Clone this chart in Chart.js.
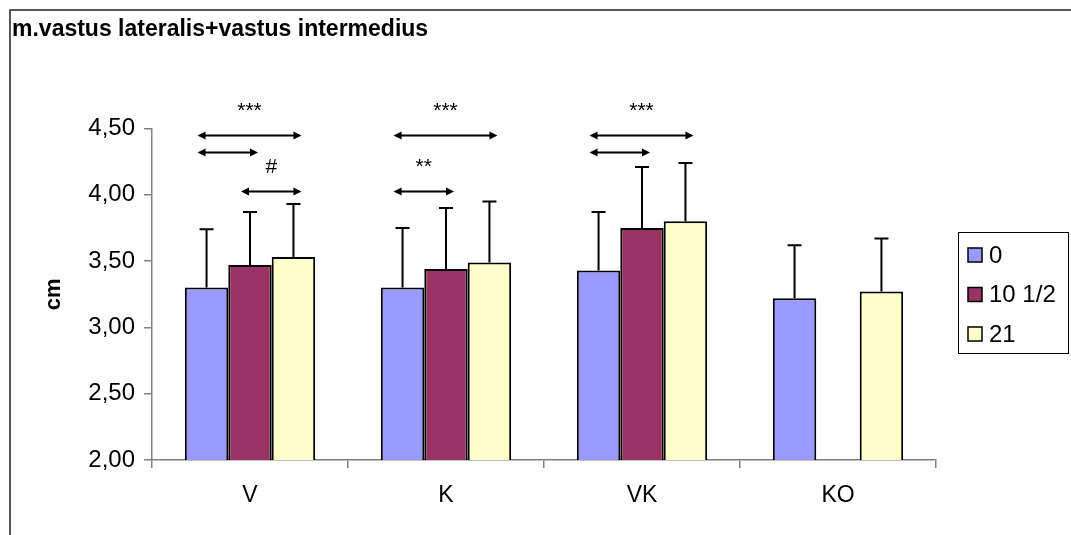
<!DOCTYPE html>
<html>
<head>
<meta charset="utf-8">
<script src="https://cdn.jsdelivr.net/npm/chart.js@4/dist/chart.umd.min.js"></script>
<style>
    html, body { margin: 0; padding: 0; background: #fff; }
    #wrap { width: 1071px; height: 535px; }
</style>
</head>
<body>
<div id="wrap"><canvas id="graficoBarras"></canvas></div>
<script>
const categorias = ['V', 'K', 'VK', 'KO'];
const serieNomes = ['0', '10 1/2', '21'];
const valores0 = [3.30, 3.30, 3.43, 3.22];
const valores10 = [3.47, 3.44, 3.75, null];
const valores21 = [3.53, 3.49, 3.80, 3.27];
const desvio0 = [0.44, 0.45, 0.44, 0.40];
const desvio10 = [0.40, 0.46, 0.46, null];
const desvio21 = [0.40, 0.46, 0.44, 0.40];
const yTicks = [2.00, 2.50, 3.00, 3.50, 4.00, 4.50];
const yTickLabels = ['2,00', '2,50', '3,00', '3,50', '4,00', '4,50'];
// comparacoes: categoria, serie inicial, serie final, nivel (cm), marca
const comparacoes = [
    { cat: 0, de: 0, ate: 2, nivel: 4.45, marca: '***' },
    { cat: 0, de: 0, ate: 1, nivel: 4.32, marca: '' },
    { cat: 0, de: 1, ate: 2, nivel: 4.03, marca: '#' },
    { cat: 1, de: 0, ate: 2, nivel: 4.45, marca: '***' },
    { cat: 1, de: 0, ate: 1, nivel: 4.03, marca: '**' },
    { cat: 2, de: 0, ate: 2, nivel: 4.45, marca: '***' },
    { cat: 2, de: 0, ate: 1, nivel: 4.32, marca: '' }
];

const cores = ['#9999ff', '#993366', '#ffffcc'];
const fonte = "'Liberation Sans', Arial, sans-serif";

const molduraPlugin = {
    id: 'moldura',
    beforeDraw(chart) {
        const ctx = chart.ctx;
        ctx.save();
        ctx.fillStyle = '#fff';
        ctx.fillRect(0, 0, chart.width, chart.height);
        ctx.strokeStyle = '#222';
        ctx.lineWidth = 1.5;
        ctx.beginPath();
        ctx.moveTo(10, chart.height);
        ctx.lineTo(10, 10);
        ctx.lineTo(chart.width, 10);
        ctx.stroke();
        ctx.restore();
    }
};

const errosPlugin = {
    id: 'erros',
    afterDatasetsDraw(chart) {
        const ctx = chart.ctx;
        const y = chart.scales.y;
        ctx.save();
        ctx.strokeStyle = '#000';
        ctx.lineWidth = 2;
        chart.data.datasets.forEach((ds, i) => {
            const meta = chart.getDatasetMeta(i);
            meta.data.forEach((bar, j) => {
                const v = ds.data[j];
                const sd = ds.desvio[j];
                if (v == null || sd == null) return;
                const yTop = y.getPixelForValue(v + sd);
                ctx.beginPath();
                ctx.moveTo(bar.x, bar.y);
                ctx.lineTo(bar.x, yTop);
                ctx.moveTo(bar.x - 7, yTop);
                ctx.lineTo(bar.x + 7, yTop);
                ctx.stroke();
            });
        });

        // setas de significancia
        ctx.fillStyle = '#000';
        ctx.font = '21px ' + fonte;
        ctx.textAlign = 'center';
        ctx.textBaseline = 'middle';
        comparacoes.forEach(c => {
            const x1 = chart.getDatasetMeta(c.de).data[c.cat].x - 9;
            const x2 = chart.getDatasetMeta(c.ate).data[c.cat].x + 8;
            const yy = Math.round(y.getPixelForValue(c.nivel)) + 0.5;
            ctx.lineWidth = 2;
            ctx.beginPath();
            ctx.moveTo(x1 + 4, yy);
            ctx.lineTo(x2 - 4, yy);
            ctx.stroke();
            ctx.beginPath();
            ctx.moveTo(x1, yy);
            ctx.lineTo(x1 + 8, yy - 4);
            ctx.lineTo(x1 + 8, yy + 4);
            ctx.closePath();
            ctx.moveTo(x2, yy);
            ctx.lineTo(x2 - 8, yy - 4);
            ctx.lineTo(x2 - 8, yy + 4);
            ctx.closePath();
            ctx.fill();
            if (c.marca) {
                ctx.fillText(c.marca, (x1 + x2) / 2, yy - 24);
            }
        });
        ctx.restore();
    }
};

const legendaPlugin = {
    id: 'legenda',
    afterDraw(chart) {
        const ctx = chart.ctx;
        ctx.save();
        ctx.strokeStyle = '#000';
        ctx.lineWidth = 1;
        ctx.strokeRect(958.5, 232.5, 110, 121);
        ctx.font = '24px ' + fonte;
        ctx.textAlign = 'left';
        ctx.textBaseline = 'middle';
        chart.data.datasets.forEach((ds, i) => {
            const cy = 255 + i * 39.5;
            ctx.fillStyle = ds.backgroundColor;
            ctx.fillRect(968, cy - 7, 14, 14);
            ctx.lineWidth = 1.5;
            ctx.strokeRect(968, cy - 7, 14, 14);
            ctx.fillStyle = '#000';
            ctx.fillText(ds.label, 989, cy + 1);
        });
        ctx.restore();
    }
};

document.addEventListener('DOMContentLoaded', function() {
    const ctxBarras = document.getElementById('graficoBarras');
    const series = [valores0, valores10, valores21];
    const desvios = [desvio0, desvio10, desvio21];
    new Chart(ctxBarras, {
        type: 'bar',
        data: {
            labels: categorias,
            datasets: series.map((dados, i) => ({
                label: serieNomes[i],
                data: dados,
                desvio: desvios[i],
                backgroundColor: cores[i],
                borderColor: '#000',
                borderWidth: 2,
                borderSkipped: false,
                categoryPercentage: 0.665,
                barPercentage: 1
            }))
        },
        options: {
            responsive: true,
            maintainAspectRatio: false,
            animation: false,
            layout: {
                padding: { top: 16, left: 12, right: 135, bottom: 0 }
            },
            plugins: {
                legend: { display: false },
                tooltip: { enabled: false },
                title: {
                    display: true,
                    text: 'm.vastus lateralis+vastus intermedius',
                    align: 'start',
                    color: '#000',
                    font: { family: fonte, size: 23, weight: 'bold' },
                    padding: { top: 0, bottom: 84.9 }
                }
            },
            scales: {
                x: {
                    grid: {
                        display: true,
                        drawOnChartArea: false,
                        offset: true,
                        tickLength: 8,
                        color: '#808080',
                        lineWidth: 1.5
                    },
                    border: { color: '#808080', width: 1.5 },
                    ticks: {
                        color: '#000',
                        padding: 14,
                        font: { family: fonte, size: 23 }
                    },
                    afterFit: function(scale) { scale.height = 75; }
                },
                y: {
                    min: 2,
                    max: 4.5,
                    afterBuildTicks: function(scale) {
                        scale.ticks = yTicks.map(v => ({ value: v }));
                    },
                    grid: {
                        display: true,
                        drawOnChartArea: false,
                        tickLength: 8,
                        color: '#808080',
                        lineWidth: 1.5
                    },
                    border: { color: '#808080', width: 1.5 },
                    ticks: {
                        color: '#000',
                        padding: 9,
                        font: { family: fonte, size: 24 },
                        callback: function(value, index) { return yTickLabels[index]; }
                    },
                    title: {
                        display: true,
                        text: 'cm',
                        color: '#000',
                        font: { family: fonte, size: 22, weight: 'bold' },
                        padding: { top: 29, bottom: 0 }
                    },
                    afterFit: function(scale) { scale.width = 140; }
                }
            }
        },
        plugins: [molduraPlugin, errosPlugin, legendaPlugin]
    });
});
</script>
</body>
</html>
